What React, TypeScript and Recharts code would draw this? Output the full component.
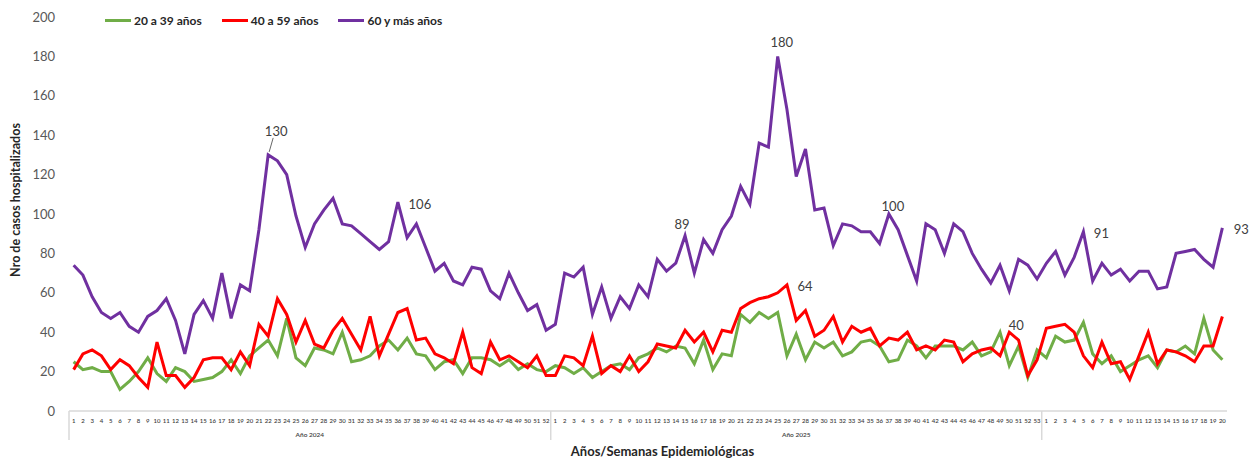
import { LineChart, Line, XAxis, YAxis, LabelList } from 'recharts'

// categories: epidemiological weeks per year
const YEARS = [2024, 2025, 2026]
const WEEKS_PER_YEAR = [52, 53, 20]
const YEAR_LABELS = ['Año 2024', 'Año 2025', '']
const Y_TICKS = [0, 20, 40, 60, 80, 100, 120, 140, 160, 180, 200]

// 20 a 39 años
const AGE_20_39 = [
  // 2024
  25, 21, 22, 20, 20, 11, 15, 20, 27, 19, 15, 22, 20, 15, 16, 17, 20, 26, 19, 28, 32, 36, 28, 47, 27, 23,
  32, 31, 29, 40, 25, 26, 28, 33, 36, 31, 37, 29, 28, 21, 25, 26, 19, 27, 27, 26, 23, 26, 21, 24, 21, 20,
  // 2025
  23, 22, 19, 22, 17, 20, 23, 24, 21, 27, 29, 32, 30, 33, 32, 24, 36, 21, 29, 28, 49, 45, 50, 47, 50, 28,
  39, 26, 35, 32, 35, 28, 30, 35, 36, 33, 25, 26, 36, 33, 27, 33, 33, 33, 31, 35, 28, 30, 40, 23, 33, 17, 31,
  // 2026
  27, 38, 35, 36, 45, 29, 24, 28, 20, 23, 26, 28, 22, 31, 30, 33, 29, 47, 31, 26,
]

// 40 a 59 años
const AGE_40_59 = [
  // 2024
  21, 29, 31, 28, 21, 26, 23, 17, 12, 35, 18, 18, 12, 17, 26, 27, 27, 21, 30, 23, 44, 38, 57, 49, 35, 46,
  34, 32, 41, 47, 39, 31, 48, 28, 39, 50, 52, 36, 37, 29, 27, 24, 40, 22, 19, 35, 26, 28, 25, 22, 28, 18,
  // 2025
  18, 28, 27, 23, 38, 19, 23, 20, 28, 20, 25, 34, 33, 32, 41, 35, 40, 30, 41, 40, 52, 55, 57, 58, 60, 64,
  46, 51, 38, 41, 48, 35, 43, 40, 42, 33, 37, 36, 40, 31, 33, 31, 36, 35, 25, 29, 31, 32, 28, 40, 36, 18, 26,
  // 2026
  42, 43, 44, 40, 28, 22, 35, 24, 25, 16, 28, 40, 24, 31, 30, 28, 25, 33, 33, 48,
]

// 60 y más años
const AGE_60_PLUS = [
  // 2024
  74, 69, 58, 50, 47, 50, 43, 40, 48, 51, 57, 46, 29, 49, 56, 47, 70, 47, 64, 61, 92, 130, 127, 120, 99, 83,
  95, 102, 108, 95, 94, 90, 86, 82, 86, 106, 88, 95, 83, 71, 75, 66, 64, 73, 72, 61, 57, 70, 60, 51, 54, 41,
  // 2025
  44, 70, 68, 73, 49, 63, 47, 58, 52, 64, 58, 77, 71, 75, 89, 70, 87, 80, 92, 99, 114, 105, 136, 134, 180, 153,
  119, 133, 102, 103, 84, 95, 94, 91, 91, 85, 100, 92, 79, 66, 95, 92, 80, 95, 91, 80, 72, 65, 74, 61, 77, 74, 67,
  // 2026
  75, 81, 69, 78, 91, 66, 75, 69, 72, 66, 71, 71, 62, 63, 80, 81, 82, 77, 73, 93,
]

const SERIES = [
  { key: 'a20', name: '20 a 39 años', color: '#70AD47', values: AGE_20_39 },
  { key: 'a40', name: '40 a 59 años', color: '#FF0000', values: AGE_40_59 },
  { key: 'a60', name: '60 y más años', color: '#7030A0', values: AGE_60_PLUS },
]

// which points carry a data label, and where the label sits relative to the point
const LABEL_OFFSETS: Record<string, Record<number, [number, number]>> = {
  a40: { 77: [18, 1], 101: [7, -7] },
  a60: { 21: [8, -24], 35: [22, 2], 66: [-3, -12], 76: [4, -14], 88: [4, -8], 109: [18, 1], 124: [19, 1] },
}

const W = 1258
const H = 460
const PLOT_LEFT = 69
const PLOT_RIGHT = 31
const PLOT_TOP = 17
const X_AXIS_H = 49
const FONT = 'Lato, "Open Sans", sans-serif'

const rows: { key: string; week: number; yearIdx: number; [k: string]: any }[] = []
YEARS.forEach((year, yi) => {
  for (let w = 1; w <= WEEKS_PER_YEAR[yi]; w++) {
    rows.push({ key: `${year}-${w}`, week: w, yearIdx: yi })
  }
})
rows.forEach((r, i) => {
  SERIES.forEach((s) => {
    r[s.key] = s.values[i]
  })
})

const BAND = (W - PLOT_LEFT - PLOT_RIGHT) / rows.length
const HALF = BAND / 2

function WeekTick(props: any) {
  const { x, y, payload } = props
  const r = rows[payload.index]
  if (!r) return null
  const weeks = WEEKS_PER_YEAR[r.yearIdx]
  const label = YEAR_LABELS[r.yearIdx]
  let yearX: number | null = null
  if (weeks % 2 === 0 && r.week === weeks / 2) yearX = x + HALF
  if (weeks % 2 === 1 && r.week === (weeks + 1) / 2) yearX = x
  return (
    <g>
      <text x={x} y={y + 12} textAnchor="middle" fontSize={6} fontWeight={600} fill="#404040" fontFamily={FONT}>
        {r.week}
      </text>
      {r.week === 1 && <line x1={x - HALF} x2={x - HALF} y1={y} y2={y + 29} stroke="#d9d9d9" strokeWidth={1.5} />}
      {yearX !== null && label && (
        <text x={yearX} y={y + 26} textAnchor="middle" fontSize={6.5} fontWeight={600} fill="#404040" fontFamily={FONT}>
          {label}
        </text>
      )}
    </g>
  )
}

function makeLabel(seriesKey: string) {
  return (p: any) => {
    const off = LABEL_OFFSETS[seriesKey]?.[p.index]
    if (!off) return null
    const tx = p.x + off[0]
    const ty = p.y + off[1]
    return (
      <g key={`lbl-${seriesKey}-${p.index}`}>
        {seriesKey === 'a60' && p.index === 21 && (
          <line x1={p.x + 5} y1={ty + 7} x2={p.x + 1} y2={p.y - 3} stroke="#404040" strokeWidth={0.8} />
        )}
        <text x={tx} y={ty} textAnchor="middle" dominantBaseline="central" fontSize={13} fill="#404040" fontFamily={FONT}>
          {p.value}
        </text>
      </g>
    )
  }
}

function ChartLegend() {
  return (
    <div
      style={{
        position: 'absolute',
        top: 13,
        left: 105,
        display: 'flex',
        alignItems: 'center',
        fontFamily: FONT,
        fontSize: 12,
        fontWeight: 700,
        color: '#262626',
      }}
    >
      {SERIES.map((s) => (
        <div key={s.key} style={{ display: 'flex', alignItems: 'center', marginRight: 20 }}>
          <span style={{ display: 'inline-block', width: 26, height: 3, background: s.color, marginRight: 3 }} />
          <span>{s.name}</span>
        </div>
      ))}
    </div>
  )
}

export default function App() {
  return (
    <div style={{ position: 'absolute', left: 0, top: 0, width: W, height: H, background: '#fff' }}>
      <LineChart
        width={W}
        height={H}
        data={rows}
        margin={{ top: PLOT_TOP, right: PLOT_RIGHT, left: 0, bottom: 0 }}
      >
        <XAxis
          dataKey="key"
          interval={0}
          tick={<WeekTick />}
          tickLine={false}
          tickSize={0}
          tickMargin={0}
          height={X_AXIS_H}
          padding={{ left: HALF, right: HALF }}
          axisLine={{ stroke: '#d9d9d9', strokeWidth: 1.5 }}
        />
        <YAxis
          width={PLOT_LEFT}
          domain={[0, 200]}
          ticks={Y_TICKS}
          axisLine={false}
          tickLine={false}
          tickMargin={8}
          tick={{ fontSize: 13, fill: '#595959', fontFamily: FONT }}
        />
        {SERIES.map((s) => (
          <Line
            key={s.key}
            type="linear"
            dataKey={s.key}
            name={s.name}
            stroke={s.color}
            strokeWidth={3}
            dot={false}
            isAnimationActive={false}
          >
            <LabelList dataKey={s.key} content={makeLabel(s.key)} />
          </Line>
        ))}
      </LineChart>
      <ChartLegend />
      <div
        style={{
          position: 'absolute',
          left: 0,
          top: 443,
          width: 1325,
          textAlign: 'center',
          fontFamily: FONT,
          fontSize: 13,
          fontWeight: 700,
          color: '#262626',
        }}
      >
        Años/Semanas Epidemiológicas
      </div>
      <div
        style={{
          position: 'absolute',
          left: 15,
          top: 200,
          transform: 'translate(-50%, -50%) rotate(-90deg)',
          whiteSpace: 'nowrap',
          fontFamily: FONT,
          fontSize: 12.5,
          fontWeight: 700,
          color: '#262626',
        }}
      >
        Nro de casos hospitalizados
      </div>
    </div>
  )
}
